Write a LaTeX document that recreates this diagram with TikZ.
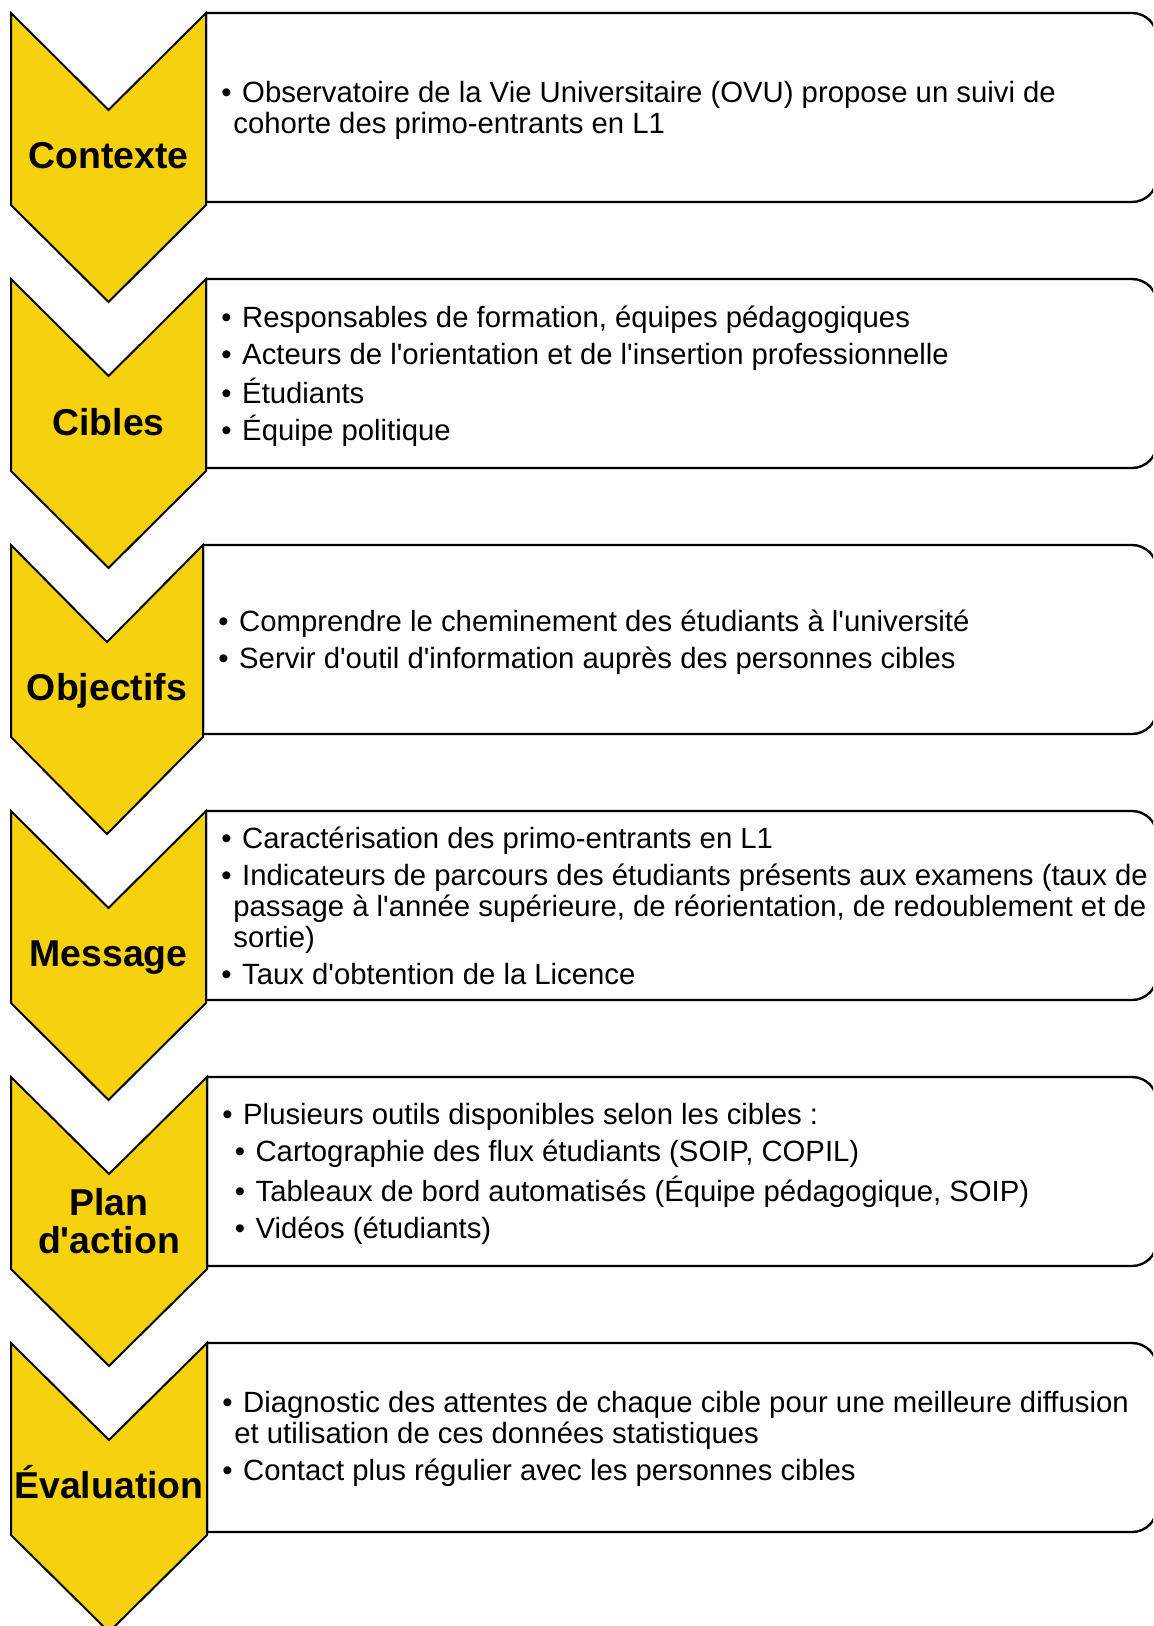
\documentclass[tikz,border=0pt]{standalone}
\usepackage{fontspec}
\setmainfont{Liberation Sans}[Ligatures=TeXOff]
\definecolor{chevgold}{RGB}{246,210,14}
\newcommand{\itembul}{\textbullet\hspace{0.36em}}
\newcommand{\itemcont}{\hspace*{6pt}}
\newcommand{\itemsub}{\hspace*{6.2pt}\itembul}

\begin{document}
\begin{tikzpicture}[x=0.5pt, y=-0.5pt,
    chevron/.style={draw, line width=1pt, fill=chevgold, line join=miter},
    panel/.style={draw, line width=1.2pt, fill=white},
    stage/.style={font=\bfseries\fontsize{18.7}{18.7}\selectfont, align=center, inner sep=0pt},
    items/.style={anchor=west, align=left, inner sep=0pt, font=\fontsize{14.65}{15.5}\selectfont}]
  \useasboundingbox (0,0) rectangle (1153,1626);
  \clip (0,0) rectangle (1153,1626);

  % panels and chevrons (top / right edge of chevron)
  \foreach \T/\R in {13/206, 279/206, 545/203, 811/206, 1077/207, 1343/207} {
    \draw[panel] (\R,\T) -- (1132,\T) arc[start angle=-90, end angle=0, radius=25]
      -- (1157,\T+164) arc[start angle=0, end angle=90, radius=25] -- (\R,\T+189) -- cycle;
    \draw[chevron] (11,\T) -- ({(11+\R)/2},\T+97) -- (\R,\T) -- (\R,\T+192)
      -- ({(11+\R)/2},\T+289) -- (11,\T+192) -- cycle;
  }

  % Contexte
  \node[stage] (contexte) at (108.5,156) {Contexte};
  \node[items] (contexte-txt) at (221,110) {\itembul Observatoire de la Vie Universitaire (OVU) propose un suivi de\\
    \itemcont cohorte des primo-entrants en L1};

  % Cibles
  \node[stage] (cibles) at (108.5,422) {Cibles};
  \node[items] (cibles-txt) at (221,376) {\itembul Responsables de formation, équipes pédagogiques\\[3pt]
    \itembul Acteurs de l'orientation et de l'insertion professionnelle\\[3pt]
    \itembul Étudiants\\[3pt]
    \itembul Équipe politique};

  % Objectifs
  \node[stage] (objectifs) at (107,691) {Objectifs};
  \node[items] (objectifs-txt) at (218,642) {\itembul Comprendre le cheminement des étudiants à l'université\\[3pt]
    \itembul Servir d'outil d'information auprès des personnes cibles};

  % Message
  \node[stage] (message) at (108.5,958) {Message};
  \node[items] (message-txt) at (221,906) {\itembul Caractérisation des primo-entrants en L1\\[3pt]
    \itembul Indicateurs de parcours des étudiants présents aux examens (taux de\\
    \itemcont passage à l'année supérieure, de réorientation, de redoublement et de\\
    \itemcont sortie)\\[3pt]
    \itembul Taux d'obtention de la Licence};

  % Plan d'action
  \node[stage] (plan) at (109,1221) {Plan\\d'action};
  \node[items] (plan-txt) at (222,1174) {\itembul Plusieurs outils disponibles selon les cibles :\\[3pt]
    \itemsub Cartographie des flux étudiants (SOIP, COPIL)\\[3pt]
    \itemsub Tableaux de bord automatisés (Équipe pédagogique, SOIP)\\[3pt]
    \itemsub Vidéos (étudiants)};

  % Evaluation
  \node[stage] (evaluation) at (109,1482) {Évaluation};
  \node[items] (evaluation-txt) at (222,1439) {\itembul Diagnostic des attentes de chaque cible pour une meilleure diffusion\\
    \itemcont et utilisation de ces données statistiques\\[3pt]
    \itembul Contact plus régulier avec les personnes cibles};
\end{tikzpicture}
\end{document}
